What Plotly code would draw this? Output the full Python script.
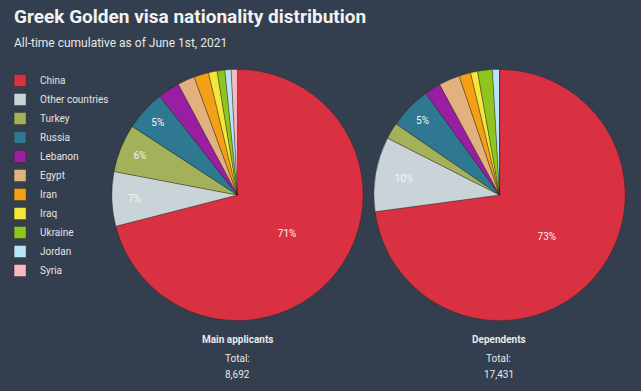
import plotly.graph_objects as go

countries = ["China", "Other countries", "Turkey", "Russia", "Lebanon", "Egypt",
             "Iran", "Iraq", "Ukraine", "Jordan", "Syria"]
main_share = [71.0, 7.0, 6.2, 5.2, 2.8, 2.2, 1.9, 1.1, 1.0, 0.8, 0.8]
dep_share = [72.8, 9.6, 2.1, 5.4, 2.1, 2.7, 1.5, 0.9, 1.9, 0.9, 0.0]
pie_names = ["Main applicants", "Dependents"]
pie_totals = ["8,692", "17,431"]
title = "Greek Golden visa nationality distribution"
subtitle = "All-time cumulative as of June 1st, 2021"

colors = ["#d93142", "#c9d3d8", "#a3b25a", "#2f7891", "#9a1ea2", "#e1b17f",
          "#f3a016", "#f5e63c", "#8ec61f", "#b9e4f7", "#f6b9c0"]
BG = "#333e4e"


def labels_for(vals):
    tot = sum(vals)
    return [f"{round(v / tot * 100)}%" if v / tot >= 0.045 else "" for v in vals]


fig = go.Figure()
domains = [[106 / 641, 360 / 641], [371 / 641, 625 / 641]]
for i, vals in enumerate([main_share, dep_share]):
    fig.add_trace(go.Pie(
        labels=countries, values=vals, sort=False, direction="clockwise", rotation=0,
        marker=dict(colors=colors, line=dict(color="rgba(40,30,20,0.45)", width=0.8)),
        text=labels_for(vals), textinfo="text", textposition="inside",
        insidetextorientation="horizontal",
        textfont=dict(family="Roboto", size=10, color="#f4f4f4"),
        domain=dict(x=domains[i], y=[0.1765, 0.826]),
        showlegend=(i == 0), hoverinfo="label+percent", name=pie_names[i],
    ))

annotations = [
    dict(text=f"<b>{title}</b>", x=5 / 641, y=1 - 16 / 391, xref="paper", yref="paper",
         xanchor="left", yanchor="middle", showarrow=False,
         font=dict(family="Roboto", size=19, color="#f2f2f2")),
    dict(text=subtitle, x=5 / 641, y=1 - 43 / 391, xref="paper", yref="paper",
         xanchor="left", yanchor="middle", showarrow=False,
         font=dict(family="Roboto", size=12, color="#e8e8e8")),
]
centers = [233 / 641, 497 / 641]
for c, name, tot in zip(centers, pie_names, pie_totals):
    annotations += [
        dict(text=f"<b>{name}</b>", x=c, y=1 - 339 / 391, xref="paper", yref="paper",
             xanchor="center", yanchor="middle", showarrow=False,
             font=dict(family="Roboto", size=10, color="#e8e8e8")),
        dict(text="Total:", x=c, y=1 - 358 / 391, xref="paper", yref="paper",
             xanchor="center", yanchor="middle", showarrow=False,
             font=dict(family="Roboto", size=10, color="#e8e8e8")),
        dict(text=tot, x=c, y=1 - 374 / 391, xref="paper", yref="paper",
             xanchor="center", yanchor="middle", showarrow=False,
             font=dict(family="Roboto", size=10, color="#e8e8e8")),
    ]

fig.update_layout(
    width=641, height=391, autosize=False,
    margin=dict(l=0, r=0, t=0, b=0),
    paper_bgcolor=BG, plot_bgcolor=BG,
    annotations=annotations,
    legend=dict(x=-7 / 641, y=1 - 66 / 391, xanchor="left", yanchor="top",
                bgcolor="rgba(0,0,0,0)", font=dict(family="Roboto", size=10, color="#e4e4e4"),
                tracegroupgap=0, itemwidth=30, traceorder="normal"),
)

fig.write_html("out.html", config={"displayModeBar": False},
               post_script="document.body.style.margin='0';document.body.style.background='#333e4e';")
